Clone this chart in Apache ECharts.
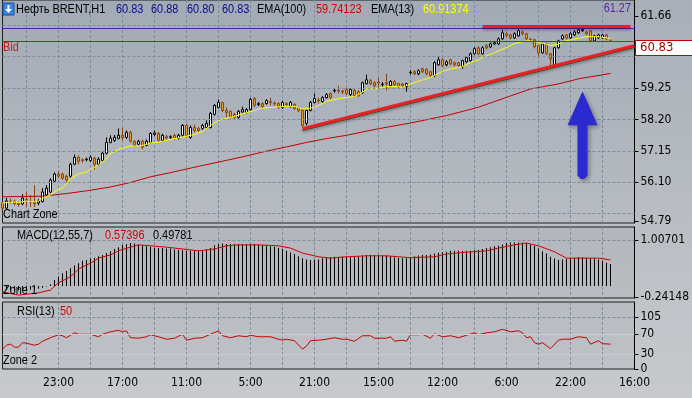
<!DOCTYPE html>
<html><head><meta charset="utf-8">
<script src="https://cdn.jsdelivr.net/npm/echarts@6/dist/echarts.min.js"></script>
<style>html,body{margin:0;padding:0;background:#c0c4c9;}#c{width:692px;height:398px;}</style>
</head><body><div id="c"></div>
<script>
// ---------- data ----------
const opens = [55.40,55.23,55.47,55.47,55.40,55.37,55.52,55.47,55.43,55.40,
55.45,55.67,55.77,56.13,56.37,56.37,56.30,56.30,56.70,56.93,
56.85,56.85,56.83,56.90,56.70,56.83,57.07,57.43,57.50,57.57,
57.67,57.60,57.77,57.47,57.37,57.47,57.33,57.43,57.70,57.73,
57.50,57.62,57.60,57.67,57.57,57.67,58.00,57.60,57.93,57.90,
57.90,57.93,57.93,58.37,58.60,58.77,58.50,58.47,58.37,58.27,
58.45,58.43,58.53,58.90,58.70,58.73,58.73,58.80,58.75,58.73,
58.60,58.73,58.63,58.70,58.60,58.50,58.07,58.50,58.77,58.85,
58.80,58.93,59.07,59.15,59.18,59.15,59.20,59.03,59.17,59.13,
59.10,59.40,59.50,59.43,59.45,59.37,59.43,59.33,59.47,59.40,
59.38,59.30,59.77,59.80,59.73,59.90,59.87,59.80,59.67,60.03,
60.20,60.03,60.20,60.10,60.10,59.97,60.13,60.17,60.40,60.60,
60.40,60.67,60.63,60.73,60.73,60.90,61.07,61.03,60.93,61.00,
61.13,61.07,60.88,60.87,60.67,60.43,60.73,60.40,60.00,60.60,
60.90,61.03,60.93,61.03,61.10,61.17,61.13,61.17,60.83,60.93,
60.93,61.03,60.83];
const closes = [55.23,55.47,55.45,55.37,55.35,55.57,55.48,55.43,55.37,55.47,
55.77,55.90,56.17,56.37,56.30,56.23,56.17,56.70,56.93,56.80,
56.82,56.87,56.93,56.70,56.87,57.07,57.43,57.57,57.60,57.67,
57.60,57.77,57.47,57.33,57.47,57.27,57.47,57.73,57.75,57.50,
57.67,57.58,57.62,57.57,57.67,58.00,57.67,57.93,57.83,57.83,
58.00,58.07,58.40,58.67,58.77,58.50,58.43,58.27,58.27,58.47,
58.53,58.53,58.87,58.67,58.73,58.63,58.83,58.77,58.72,58.60,
58.77,58.70,58.77,58.57,58.50,58.00,58.50,58.77,58.90,58.82,
58.93,59.03,58.93,59.17,59.15,59.12,59.07,59.20,59.00,59.00,
59.43,59.53,59.40,59.33,59.42,59.38,59.40,59.47,59.37,59.30,
59.32,59.40,59.78,59.73,59.83,59.80,59.73,59.67,60.10,60.20,
60.00,60.13,60.07,60.03,60.00,60.17,60.27,60.40,60.57,60.40,
60.60,60.60,60.73,60.77,60.90,61.10,61.00,60.93,61.07,61.17,
61.07,60.90,60.87,60.63,60.43,60.73,60.40,60.23,60.60,60.83,
61.00,60.93,61.07,61.13,61.20,61.22,61.07,60.83,61.00,61.03,
61.03,60.90,60.83];
const lows = [55.18,55.20,55.38,55.32,55.28,55.33,55.27,55.27,55.27,55.33,
55.42,55.63,55.73,56.10,56.23,56.18,56.10,56.25,56.67,56.70,
56.75,56.80,56.78,56.53,56.65,56.80,57.03,57.40,57.45,57.53,
57.50,57.55,57.42,57.28,57.33,57.20,57.30,57.40,57.65,57.45,
57.45,57.53,57.55,57.52,57.53,57.63,57.60,57.55,57.77,57.78,
57.85,57.90,57.90,58.33,58.57,58.45,58.27,58.22,58.22,58.23,
58.42,58.40,58.50,58.62,58.65,58.58,58.70,58.67,58.67,58.55,
58.55,58.65,58.60,58.52,58.45,57.93,58.00,58.47,58.73,58.73,
58.75,58.90,58.88,59.10,59.07,59.05,59.02,58.98,58.95,58.95,
59.05,59.37,59.35,59.28,59.27,59.30,59.17,59.28,59.32,59.25,
59.27,59.13,59.70,59.68,59.68,59.75,59.68,59.62,59.62,60.00,
59.95,59.98,60.02,59.98,59.95,59.90,60.10,60.13,60.37,60.35,
60.37,60.55,60.60,60.70,60.70,60.87,60.95,60.88,60.90,60.97,
61.02,60.85,60.82,60.58,60.27,60.40,60.35,60.00,59.95,60.57,
60.87,60.88,60.90,61.00,61.07,61.13,61.02,60.78,60.80,60.90,
60.90,60.85,60.80];
const highs = [55.45,55.57,55.55,55.52,55.45,55.70,55.77,55.67,56.00,55.53,
55.90,56.00,56.23,56.43,56.47,56.42,56.35,56.75,57.03,57.00,
56.90,56.92,57.00,56.95,56.93,57.12,57.60,57.67,57.68,57.90,
57.93,57.83,57.82,57.50,57.52,57.52,57.53,57.78,57.83,57.78,
57.72,57.68,57.67,57.72,57.72,58.05,58.05,58.00,58.03,57.95,
58.05,58.17,58.45,58.72,58.87,58.80,58.60,58.50,58.42,58.52,
58.63,58.58,58.92,58.95,58.78,58.77,58.88,58.93,58.80,58.78,
58.83,58.78,58.82,58.75,58.63,58.55,58.53,58.82,59.07,58.93,
58.98,59.08,59.10,59.22,59.33,59.20,59.25,59.25,59.22,59.17,
59.47,59.70,59.55,59.48,59.60,59.45,59.73,59.52,59.52,59.43,
59.42,59.43,59.85,59.85,59.88,59.93,59.92,59.83,60.15,60.30,
60.25,60.18,60.23,60.13,60.13,60.20,60.30,60.45,60.62,60.65,
60.65,60.72,60.78,60.80,60.95,61.20,61.12,61.07,61.12,61.22,
61.18,61.10,60.93,60.90,60.70,60.77,60.77,60.43,60.63,60.87,
61.05,61.07,61.12,61.18,61.25,61.28,61.17,61.20,61.03,61.07,
61.07,61.07,60.88];
// EMA lines read as [bar index, price]
const ema13 = [[0,55.39],[1,55.42],[3,55.44],[4,55.42],[6,55.47],[8,55.44],[9,55.47],[10,55.56],[12,55.67],[13,55.78],
[15,55.91],[16,56.02],[17,56.22],[19,56.37],[21,56.44],[22,56.53],[24,56.67],[26,56.89],[27,57.06],[29,57.20],
[31,57.28],[32,57.31],[34,57.31],[36,57.36],[37,57.42],[39,57.44],[41,57.50],[45,57.61],[48,57.70],[50,57.80],
[52,58.00],[54,58.17],[56,58.24],[58,58.30],[60,58.39],[63,58.50],[65,58.58],[68,58.61],[71,58.64],[73,58.64],
[75,58.56],[76,58.56],[78,58.61],[79,58.67],[81,58.81],[85,58.92],[88,58.97],[90,59.11],[91,59.22],[94,59.24],
[96,59.30],[99,59.30],[100,59.28],[102,59.39],[105,59.52],[107,59.61],[110,59.81],[112,59.89],[115,59.97],[117,60.11],
[119,60.19],[120,60.28],[123,60.44],[126,60.61],[128,60.74],[131,60.83],[132,60.83],[134,60.78],[136,60.72],[137,60.67],
[139,60.72],[140,60.81],[142,60.86],[144,60.92],[146,60.97],[149,60.97],[152,60.91]];
const ema100 = [[0,55.61],[10,55.63],[16,55.72],[21,55.81],[27,55.94],[32,56.09],[37,56.28],[42,56.42],[49,56.63],[56,56.83],
[61,56.98],[66,57.14],[71,57.28],[76,57.43],[81,57.56],[86,57.67],[94,57.89],[102,58.08],[111,58.33],[119,58.61],
[126,58.94],[132,59.22],[139,59.39],[144,59.56],[152,59.74]];
const macdMain = [-0.08,-0.09,-0.10,-0.10,-0.10,-0.09,-0.08,-0.08,-0.07,-0.06,
-0.04,-0.01,0.04,0.13,0.21,0.28,0.33,0.39,0.45,0.50,
0.55,0.57,0.60,0.62,0.65,0.68,0.72,0.76,0.81,0.85,
0.90,0.92,0.94,0.93,0.91,0.88,0.87,0.86,0.84,0.83,
0.83,0.82,0.82,0.80,0.79,0.78,0.77,0.77,0.77,0.77,
0.78,0.80,0.83,0.89,0.92,0.93,0.92,0.92,0.92,0.92,
0.92,0.92,0.92,0.92,0.91,0.90,0.89,0.87,0.86,0.84,
0.81,0.77,0.74,0.70,0.65,0.61,0.58,0.57,0.57,0.58,
0.61,0.62,0.63,0.64,0.64,0.64,0.64,0.63,0.64,0.65,
0.67,0.68,0.68,0.68,0.68,0.67,0.67,0.65,0.63,0.62,
0.61,0.61,0.63,0.65,0.67,0.68,0.68,0.69,0.71,0.73,
0.74,0.75,0.77,0.77,0.77,0.77,0.77,0.77,0.78,0.79,
0.81,0.83,0.85,0.87,0.88,0.91,0.94,0.95,0.95,0.95,
0.95,0.94,0.91,0.88,0.82,0.76,0.71,0.64,0.60,0.57,
0.58,0.59,0.61,0.62,0.63,0.63,0.62,0.61,0.60,0.58,
0.55,0.51,0.48];
const macdSignal = [[0,-0.13],[4,-0.20],[9,-0.15],[12,-0.09],[14,0.07],[17,0.20],[19,0.37],[22,0.50],[24,0.61],[27,0.68],
[29,0.77],[32,0.85],[34,0.90],[37,0.88],[41,0.85],[45,0.81],[49,0.77],[53,0.81],[56,0.88],[59,0.90],
[64,0.90],[69,0.88],[72,0.83],[75,0.72],[79,0.64],[82,0.61],[86,0.64],[91,0.66],[96,0.66],[99,0.64],
[102,0.62],[108,0.64],[111,0.70],[116,0.74],[121,0.77],[124,0.83],[128,0.90],[131,0.94],[134,0.88],[138,0.75],
[141,0.61],[144,0.61],[149,0.61],[152,0.57]];
const rsi = [[0,40],[1,48],[2,50],[3,44],[4,44],[5,53],[6,52],[8,48],[9,50],[10,56],
[12,63],[14,69],[15,67],[16,63],[18,73],[19,70],[22,70],[24,65],[25,70],[27,75],
[29,78],[30,75],[31,77],[32,63],[34,62],[36,65],[37,69],[39,65],[41,60],[43,62],
[45,70],[46,58],[48,62],[50,63],[52,70],[54,77],[55,67],[57,63],[59,67],[61,65],
[62,68],[64,65],[65,65],[67,65],[69,60],[70,58],[71,60],[73,57],[75,40],[76,46],
[77,57],[79,58],[81,60],[83,63],[85,60],[86,60],[87,58],[88,56],[90,67],[92,67],
[93,62],[96,62],[97,65],[98,56],[100,58],[101,56],[102,69],[104,69],[105,70],[107,62],
[108,71],[110,65],[112,67],[114,63],[116,68],[118,73],[119,69],[121,73],[123,75],[125,80],
[127,75],[129,77],[130,73],[131,63],[132,65],[133,53],[134,50],[135,53],[137,41],[139,58],
[140,60],[142,60],[144,65],[146,63],[147,50],[149,57],[150,51],[152,50]];
// tick labels / levels
const timeLabels = ['23:00','17:00','11:00','5:00','21:00','15:00','12:00','6:00','22:00','16:00'];
const priceLabels = [54.79,56.10,57.15,58.20,59.25,61.66];
const priceGrid = [55.05,56.10,57.15,58.20,59.25,60.30,61.35];
const macdLabels = [-0.24148,1.00701];
const rsiLabels = [0,30,70,105];
const bidPrice = 60.83, levelPrice = 61.27, resistPrice = 61.33;
const trendUp = [[75,57.89],[158,60.67]];
const trendGreen = [[75,57.83],[158,60.61]];
const resistSpan = [120,157];
const arrowAt = [145,57.67];
const SLOTS = 159;

// ---------- chart ----------
const AXFONT = "'DejaVu Sans Condensed','DejaVu Sans',sans-serif";
const TXFONT = "'Liberation Sans',Arial,sans-serif";
const cats = Array.from({length:SLOTS},(_,i)=>String(i));
const gridDash = {type:[3,2], color:'#7d8d9e', width:1};
const vSplit = i => i>=6 && (i-6)%8===0;
function xAx(g, showLabel){
  return {type:'category', gridIndex:g, data:cats, boundaryGap:false,
    axisLine:{show:false}, axisTick:{show:false},
    axisLabel:{show:showLabel, interval:i=>i>=14&&(i-14)%16===0,
      formatter:(v,i)=>timeLabels[(i-14)/16]||'', color:'#000', fontSize:12, fontFamily:AXFONT, margin:8},
    splitLine:{show:true, interval:vSplit, lineStyle:gridDash}};
}
function yAx(g,min,max,vals,fmt){
  return {type:'value', gridIndex:g, position:'right', min:min, max:max, scale:true,
    axisLine:{show:true, lineStyle:{color:'#000'}},
    axisTick:{show:true, length:4, lineStyle:{color:'#000'}, customValues:vals},
    axisLabel:{customValues:vals, formatter:fmt, color:'#000', fontSize:12, fontFamily:AXFONT, margin:6},
    splitLine:{show:false}};
}
function hLines(xi, yi, vals, style, z){
  return {type:'line', xAxisIndex:xi, yAxisIndex:yi, data:[], silent:true, z:z,
    markLine:{silent:true, symbol:'none', animation:false, label:{show:false}, lineStyle:style,
      data:vals.map(v=>({yAxis:v}))}};
}
const gradMain = {type:'linear',x:0,y:0,x2:0,y2:1,colorStops:[{offset:0,color:'#a2aab5'},{offset:1,color:'#b8bcc2'}]};
const gradMacd = {type:'linear',x:0,y:0,x2:0,y2:1,colorStops:[{offset:0,color:'#b3b7bd'},{offset:1,color:'#b9bcc1'}]};
const gradRsi = {type:'linear',x:0,y:0,x2:0,y2:1,colorStops:[{offset:0,color:'#b8bcc1'},{offset:1,color:'#bfc2c6'}]};
const border = {show:true, borderColor:'#1e1e1e', borderWidth:1};

function txt(x,y,s,color,align){
  return {type:'text', z:100, x:x, y:y, scaleX:0.84,
    style:{x:0,y:0,text:s,fill:color||'#000', font:'13px '+TXFONT, align:align||'left', verticalAlign:'middle'}};
}
const chart = echarts.init(document.getElementById('c'), null, {renderer:'canvas'});
chart.setOption({
  animation:false,
  backgroundColor:{type:'linear',x:0,y:0,x2:0,y2:1,colorStops:[{offset:0,color:'#a9afb8'},{offset:1,color:'#c7cacd'}]},
  grid:[
    Object.assign({left:2.5, width:632, top:-1, height:224, backgroundColor:gradMain}, border),
    Object.assign({left:2.5, width:632, top:227, height:71, backgroundColor:gradMacd}, border),
    Object.assign({left:2.5, width:632, top:302, height:67, backgroundColor:gradRsi}, border)
  ],
  xAxis:[xAx(0,false), xAx(1,false), xAx(2,true)],
  yAxis:[
    yAx(0,54.733,62.20,priceLabels,v=>v.toFixed(2)),
    yAx(1,-0.2634,1.2918,macdLabels,v=>v.toFixed(5)),
    yAx(2,0,135,rsiLabels,v=>String(Math.round(v)))
  ],
  series:[
    hLines(0,0,priceGrid,gridDash,1),
    hLines(1,1,[macdLabels[1]],gridDash,1),
    hLines(2,2,[rsiLabels[3]],gridDash,1),
    hLines(2,2,[rsiLabels[1],rsiLabels[2]],{type:'solid',color:'#cbced2',width:1},1),
    hLines(0,0,[levelPrice],{type:'solid',color:'#5a1f9c',width:1},2),
    hLines(0,0,[bidPrice],{type:'solid',color:'#b01e1e',width:1},2),
    {type:'candlestick', xAxisIndex:0, yAxisIndex:0, z:3, barWidth:2,
      data:opens.map((o,i)=>[o,closes[i],lows[i],highs[i]]),
      itemStyle:{color:'#ffffff', color0:'#eca02a', borderColor:'#000000', borderColor0:'#8a4510', borderWidth:1}},
    {type:'line', xAxisIndex:0, yAxisIndex:0, z:4, data:ema100, symbol:'none', lineStyle:{color:'#c00000',width:1}},
    {type:'line', xAxisIndex:0, yAxisIndex:0, z:4, data:ema13, symbol:'none', lineStyle:{color:'#ffff00',width:1}},
    {type:'line', xAxisIndex:0, yAxisIndex:0, z:5, data:[], silent:true,
      markLine:{silent:true, symbol:'none', label:{show:false},
        lineStyle:{color:'#1f7a1f', width:1, type:'solid'},
        data:[[{coord:trendGreen[0]},{coord:trendGreen[1]}]]}},
    {type:'line', xAxisIndex:0, yAxisIndex:0, z:6, data:[], silent:true,
      markLine:{silent:true, symbol:'none', label:{show:false},
        lineStyle:{color:'#ee1c25', width:3, type:'solid', shadowBlur:3, shadowColor:'rgba(0,0,0,0.35)', shadowOffsetY:2},
        data:[[{coord:trendUp[0]},{coord:trendUp[1]}],
              [{coord:[resistSpan[0],resistPrice]},{coord:[resistSpan[1],resistPrice]}]]},
      markPoint:{silent:true, label:{show:false},
        data:[{coord:arrowAt, symbol:'path://M15 0 L30 34 L20 34 L20 84 Q15 92 10 84 L10 34 L0 34 Z',
          symbolSize:[30,88], itemStyle:{color:'#2a2ad0', shadowBlur:4, shadowColor:'rgba(0,0,0,0.35)', shadowOffsetX:2, shadowOffsetY:2}}]}},
    {type:'bar', xAxisIndex:1, yAxisIndex:1, z:3, data:macdMain, barWidth:1, itemStyle:{color:'#000'}},
    {type:'line', xAxisIndex:1, yAxisIndex:1, z:4, data:macdSignal, symbol:'none', lineStyle:{color:'#d00000',width:1}},
    {type:'line', xAxisIndex:2, yAxisIndex:2, z:4, data:rsi, symbol:'none', lineStyle:{color:'#c80000',width:1}}
  ],
  graphic:[
    {type:'rect', z:100, shape:{x:3,y:3,width:11,height:12}, style:{fill:'#3a86dc', stroke:'#1d4f9a', lineWidth:1}},
    {type:'polygon', z:101, shape:{points:[[7.5,5],[9.5,5],[9.5,9],[12,9],[8.5,13],[5,9],[7.5,9]]}, style:{fill:'#ffffff'}},
    txt(16,9,'Нефть BRENT,H1','#000'),
    txt(116,9,'60.83','#0a0a90'), txt(151,9,'60.88','#0a0a90'),
    txt(187,9,'60.80','#0a0a90'), txt(222,9,'60.83','#0a0a90'),
    txt(257,9,'EMA(100)','#000'), txt(316,9,'59.74123','#d40000'),
    txt(371,9,'EMA(13)','#000'), txt(423,9,'60.91374','#ffff00'),
    txt(631,8,'61.27','#5a1f9c','right'),
    txt(3,47,'Bid','#c01e1e'),
    txt(3,214,'Chart Zone','#000'),
    txt(17,235,'MACD(12,55,7)','#000'), txt(105,235,'0.57396','#d40000'), txt(153,235,'0.49781','#000'),
    txt(3,290,'Zone 1','#000'),
    txt(17,311,'RSI(13)','#000'), txt(60,311,'50','#d40000'),
    txt(3,360,'Zone 2','#000'),
    {type:'rect', z:100, shape:{x:635.5,y:40.5,width:60,height:15}, style:{fill:'#ffffff', stroke:'#c00000', lineWidth:1}},
    {type:'text', z:101, style:{x:640,y:48,text:'60.83',fill:'#b00000',font:'13px '+AXFONT,verticalAlign:'middle'}}
  ]
});
</script></body></html>
